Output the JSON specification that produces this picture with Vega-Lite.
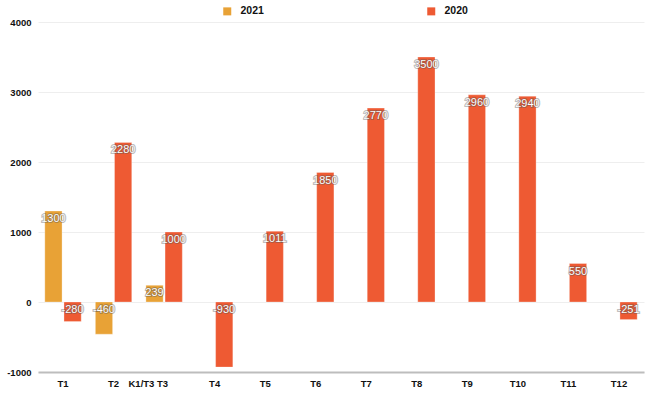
{
  "$schema": "https://vega.github.io/schema/vega-lite/v6.json",
  "width": 606,
  "height": 350,
  "autosize": {"type": "none"},
  "padding": {"left": 38, "top": 22, "right": 6, "bottom": 26},
  "background": "white",
  "config": {"view": {"stroke": null}, "font": "Liberation Sans"},
  "data": {
    "values": [
      {"month": "T1", "series": "2021", "value": 1300},
      {"month": "T1", "series": "2020", "value": -280},
      {"month": "T2", "series": "2021", "value": -460},
      {"month": "T2", "series": "2020", "value": 2280},
      {"month": "T3", "series": "2021", "value": 239},
      {"month": "T3", "series": "2020", "value": 1000},
      {"month": "T4", "series": "2020", "value": -930},
      {"month": "T5", "series": "2020", "value": 1011},
      {"month": "T6", "series": "2020", "value": 1850},
      {"month": "T7", "series": "2020", "value": 2770},
      {"month": "T8", "series": "2020", "value": 3500},
      {"month": "T9", "series": "2020", "value": 2960},
      {"month": "T10", "series": "2020", "value": 2940},
      {"month": "T11", "series": "2020", "value": 550},
      {"month": "T12", "series": "2020", "value": -251}
    ]
  },
  "encoding": {
    "x": {
      "field": "month",
      "type": "nominal",
      "sort": ["T1", "T2", "T3", "T4", "T5", "T6", "T7", "T8", "T9", "T10", "T11", "T12"],
      "scale": {"paddingInner": 0.28, "paddingOuter": 0.135},
      "axis": {
        "title": null,
        "orient": "bottom",
        "labelAngle": 0,
        "ticks": false,
        "domainColor": "#bdbdbd",
        "domainWidth": 2,
        "labelPadding": 6,
        "labelFontSize": 9.5,
        "labelFontWeight": "bold",
        "labelColor": "#111",
        "labelExpr": "datum.value == 'T3' ? 'K1/T3 T3' : datum.value",
        "labelAlign": {"condition": {"test": "datum.value == 'T3'", "value": "right"}, "value": "center"},
        "labelOffset": {"condition": {"test": "datum.value == 'T3'", "value": 4}, "value": 0}
      }
    },
    "xOffset": {"field": "series", "type": "nominal", "sort": ["2021", "2020"], "scale": {"paddingInner": 0.1}}
  },
  "layer": [
    {
      "mark": {"type": "bar", "stroke": "white", "strokeWidth": 0.5, "strokeOpacity": 0.6},
      "encoding": {
        "y": {
          "field": "value",
          "type": "quantitative",
          "scale": {"domain": [-1000, 4000], "nice": false},
          "axis": {
            "title": null,
            "values": [-1000, 0, 1000, 2000, 3000, 4000],
            "labelExpr": "'' + datum.value",
            "domain": false,
            "ticks": false,
            "labelPadding": 7,
            "labelFontSize": 9.5,
            "labelFontWeight": "bold",
            "labelColor": "#111",
            "gridColor": "#eeeeee",
            "gridWidth": 1
          }
        },
        "color": {
          "field": "series",
          "type": "nominal",
          "scale": {"domain": ["2021", "2020"], "range": ["#E8A236", "#EE5A33"]},
          "legend": {
            "title": null,
            "orient": "none",
            "legendX": 184,
            "legendY": -16,
            "direction": "horizontal",
            "columnPadding": 162,
            "symbolType": "square",
            "symbolSize": 64,
            "symbolStrokeWidth": 0,
            "labelFontSize": 10.5,
            "labelFontWeight": "bold",
            "labelColor": "#111",
            "labelOffset": 8,
            "padding": 0
          }
        }
      }
    },
    {
      "transform": [{"filter": "datum.value >= 0"}],
      "mark": {"type": "text", "baseline": "middle", "dy": 8, "fontSize": 11, "fill": "#555", "stroke": "#555", "strokeWidth": 2, "strokeOpacity": 0.4, "fillOpacity": 0.6},
      "encoding": {
        "y": {"field": "value", "type": "quantitative"},
        "text": {"field": "value", "type": "nominal"}
      }
    },
    {
      "transform": [{"filter": "datum.value >= 0"}],
      "mark": {"type": "text", "baseline": "middle", "dy": 8, "fontSize": 11, "fill": "white"},
      "encoding": {
        "y": {"field": "value", "type": "quantitative"},
        "text": {"field": "value", "type": "nominal"}
      }
    },
    {
      "transform": [{"filter": "datum.value < 0"}],
      "mark": {"type": "text", "baseline": "middle", "dy": 8, "fontSize": 11, "fill": "#555", "stroke": "#555", "strokeWidth": 2, "strokeOpacity": 0.4, "fillOpacity": 0.6},
      "encoding": {
        "y": {"datum": 0, "type": "quantitative"},
        "text": {"field": "value", "type": "nominal"}
      }
    },
    {
      "transform": [{"filter": "datum.value < 0"}],
      "mark": {"type": "text", "baseline": "middle", "dy": 8, "fontSize": 11, "fill": "white"},
      "encoding": {
        "y": {"datum": 0, "type": "quantitative"},
        "text": {"field": "value", "type": "nominal"}
      }
    }
  ]
}
